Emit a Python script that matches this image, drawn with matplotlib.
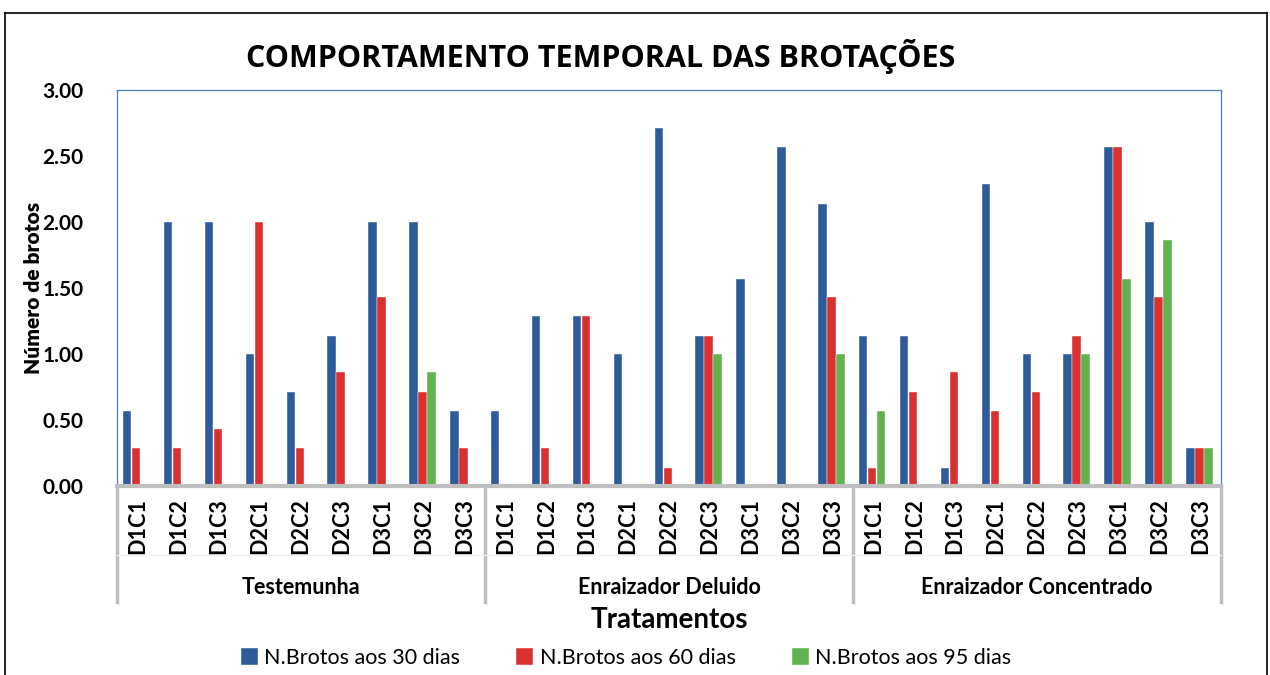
import matplotlib
matplotlib.use('Agg')
import matplotlib.pyplot as plt
from matplotlib.lines import Line2D
import numpy as np

plt.rcParams['font.family'] = ['Lato', 'DejaVu Sans']

# data
grupos = ['Testemunha', 'Enraizador Deluido', 'Enraizador Concentrado']
tratamentos = ['D1C1', 'D1C2', 'D1C3', 'D2C1', 'D2C2', 'D2C3', 'D3C1', 'D3C2', 'D3C3']

brotos_30 = [0.57, 2.00, 2.00, 1.00, 0.71, 1.14, 2.00, 2.00, 0.57,
             0.57, 1.29, 1.29, 1.00, 2.71, 1.14, 1.57, 2.57, 2.14,
             1.14, 1.14, 0.14, 2.29, 1.00, 1.00, 2.57, 2.00, 0.29]
brotos_60 = [0.29, 0.29, 0.43, 2.00, 0.29, 0.86, 1.43, 0.71, 0.29,
             0.00, 0.29, 1.29, 0.00, 0.14, 1.14, 0.00, 0.00, 1.43,
             0.14, 0.71, 0.86, 0.57, 0.71, 1.14, 2.57, 1.43, 0.29]
brotos_95 = [0.00, 0.00, 0.00, 0.00, 0.00, 0.00, 0.00, 0.86, 0.00,
             0.00, 0.00, 0.00, 0.00, 0.00, 1.00, 0.00, 0.00, 1.00,
             0.57, 0.00, 0.00, 0.00, 0.00, 1.00, 1.57, 1.86, 0.29]

series = ['N.Brotos aos 30 dias', 'N.Brotos aos 60 dias', 'N.Brotos aos 95 dias']
cores = ['#2E5B9A', '#DA3030', '#62B34F']

fig = plt.figure(figsize=(12.7, 6.75), dpi=100)
W, H = 1270.0, 675.0

# outer frame of the chart
fig.add_artist(Line2D([5/W, 5/W], [0, 1 - 13/H], color='black', lw=1.2))
fig.add_artist(Line2D([5/W, 1267/W], [1 - 13/H, 1 - 13/H], color='black', lw=1.2))
fig.add_artist(Line2D([1267/W, 1267/W], [0, 1 - 13/H], color='black', lw=1.2))

ax = fig.add_axes([117/W, 1 - 486/H, (1221 - 117)/W, (486 - 90)/H])

labels = tratamentos * len(grupos)
x = np.arange(len(labels))
w = 0.22
for k, (vals, nome, cor) in enumerate(zip([brotos_30, brotos_60, brotos_95], series, cores)):
    ax.bar(x + (k - 1) * w - 0.03, vals, width=w * 0.95, color=cor, label=nome,
           edgecolor='white', linewidth=0.3)

ax.set_xlim(-0.5, len(labels) - 0.5)
ax.set_ylim(0, 3)
ax.set_yticks(np.arange(0, 3.01, 0.5))
ax.set_yticklabels(['%.2f' % v for v in np.arange(0, 3.01, 0.5)],
                   fontsize=15, fontweight='bold')
ax.tick_params(axis='y', length=0, pad=24)
ax.set_xticks(x)
ax.set_xticklabels(labels, rotation=90, fontsize=15.5, fontweight='bold')
ax.tick_params(axis='x', length=0, pad=9)

for s in ['left', 'top', 'right']:
    ax.spines[s].set_color('#4A7EBB')
    ax.spines[s].set_linewidth(0.9)
ax.spines['bottom'].set_color('#BFBFBF')
ax.spines['bottom'].set_linewidth(3)

# multi-level category axis
fundo = -(602 - 486) / 396.0
n = len(tratamentos)
for i in range(len(grupos) + 1):
    xs = i * n - 0.5
    ax.plot([xs, xs], [0, fundo], transform=ax.get_xaxis_transform(),
            color='#BFBFBF', lw=2.5, clip_on=False)
ax.plot([-0.5, len(labels) - 0.5], [-(555 - 486) / 396.0] * 2,
        transform=ax.get_xaxis_transform(), color='#F2F2F2', lw=1, clip_on=False)
for i, g in enumerate(grupos):
    ax.text(i * n + (n - 1) / 2, -(587 - 486) / 396.0, g, transform=ax.get_xaxis_transform(),
            ha='center', va='center', fontsize=15.5, fontweight='bold')

ax.text(0.5, -(620 - 486) / 396.0, 'Tratamentos', transform=ax.transAxes,
        ha='center', va='center', fontsize=20, fontweight='bold')
ax.set_ylabel('Número de brotos', fontsize=15, fontweight='heavy', labelpad=0)

fig.text(601/W, 1 - 56/H, 'COMPORTAMENTO TEMPORAL DAS BROTAÇÕES',
         ha='center', va='center', fontsize=22, fontweight='bold', family='Open Sans')

fig.legend(loc='center', bbox_to_anchor=(626/W, 1 - 658/H), ncol=3, frameon=False,
           fontsize=15.5, handlelength=0.8, handleheight=0.8, handletextpad=0.3,
           columnspacing=2.6)

fig.savefig('out.png', dpi=100)
